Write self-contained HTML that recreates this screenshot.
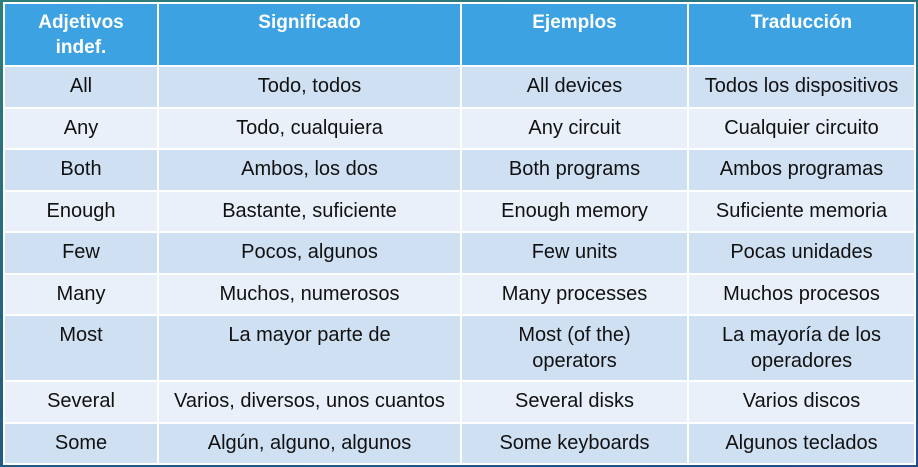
<!DOCTYPE html>
<html><head><meta charset="utf-8"><style>
html,body{margin:0;padding:0;width:918px;height:467px;overflow:hidden;
background:linear-gradient(170deg,#2f7f78 0%,#266a80 40%,#1d4f86 100%);}
table{position:absolute;left:3px;top:2px;border-collapse:collapse;table-layout:fixed;
font-family:"Liberation Sans",sans-serif;font-size:20px;color:#111;}
td,th{border:2px solid #fff;text-align:center;vertical-align:top;padding:6px 1px 0 1px;line-height:26px;box-sizing:border-box;overflow:hidden;white-space:nowrap}
th{background:#3ca2e2;color:#fff;font-weight:bold;font-size:19px;height:63px;padding-top:6px;line-height:25px}
tr.a td{background:#cfe0f3}
tr.b td{background:#e9f0f9}
tr td{height:41.5px}
tr.m td{height:66px}
</style></head><body>
<table>
<colgroup><col style="width:154px"><col style="width:303px"><col style="width:227px"><col style="width:227px"></colgroup>
<tr><th>Adjetivos<br>indef.</th><th>Significado</th><th>Ejemplos</th><th>Traducción</th></tr>
<tr class="a"><td>All</td><td>Todo, todos</td><td>All devices</td><td>Todos los dispositivos</td></tr>
<tr class="b"><td>Any</td><td>Todo, cualquiera</td><td>Any circuit</td><td>Cualquier circuito</td></tr>
<tr class="a"><td>Both</td><td>Ambos, los dos</td><td>Both programs</td><td>Ambos programas</td></tr>
<tr class="b"><td>Enough</td><td>Bastante, suficiente</td><td>Enough memory</td><td>Suficiente memoria</td></tr>
<tr class="a"><td>Few</td><td>Pocos, algunos</td><td>Few units</td><td>Pocas unidades</td></tr>
<tr class="b"><td>Many</td><td>Muchos, numerosos</td><td>Many processes</td><td>Muchos procesos</td></tr>
<tr class="a m"><td>Most</td><td>La mayor parte de</td><td>Most (of the)<br>operators</td><td>La mayoría de los<br>operadores</td></tr>
<tr class="b"><td>Several</td><td>Varios, diversos, unos cuantos</td><td>Several disks</td><td>Varios discos</td></tr>
<tr class="a"><td>Some</td><td>Algún, alguno, algunos</td><td>Some keyboards</td><td>Algunos teclados</td></tr>
</table>
</body></html>
